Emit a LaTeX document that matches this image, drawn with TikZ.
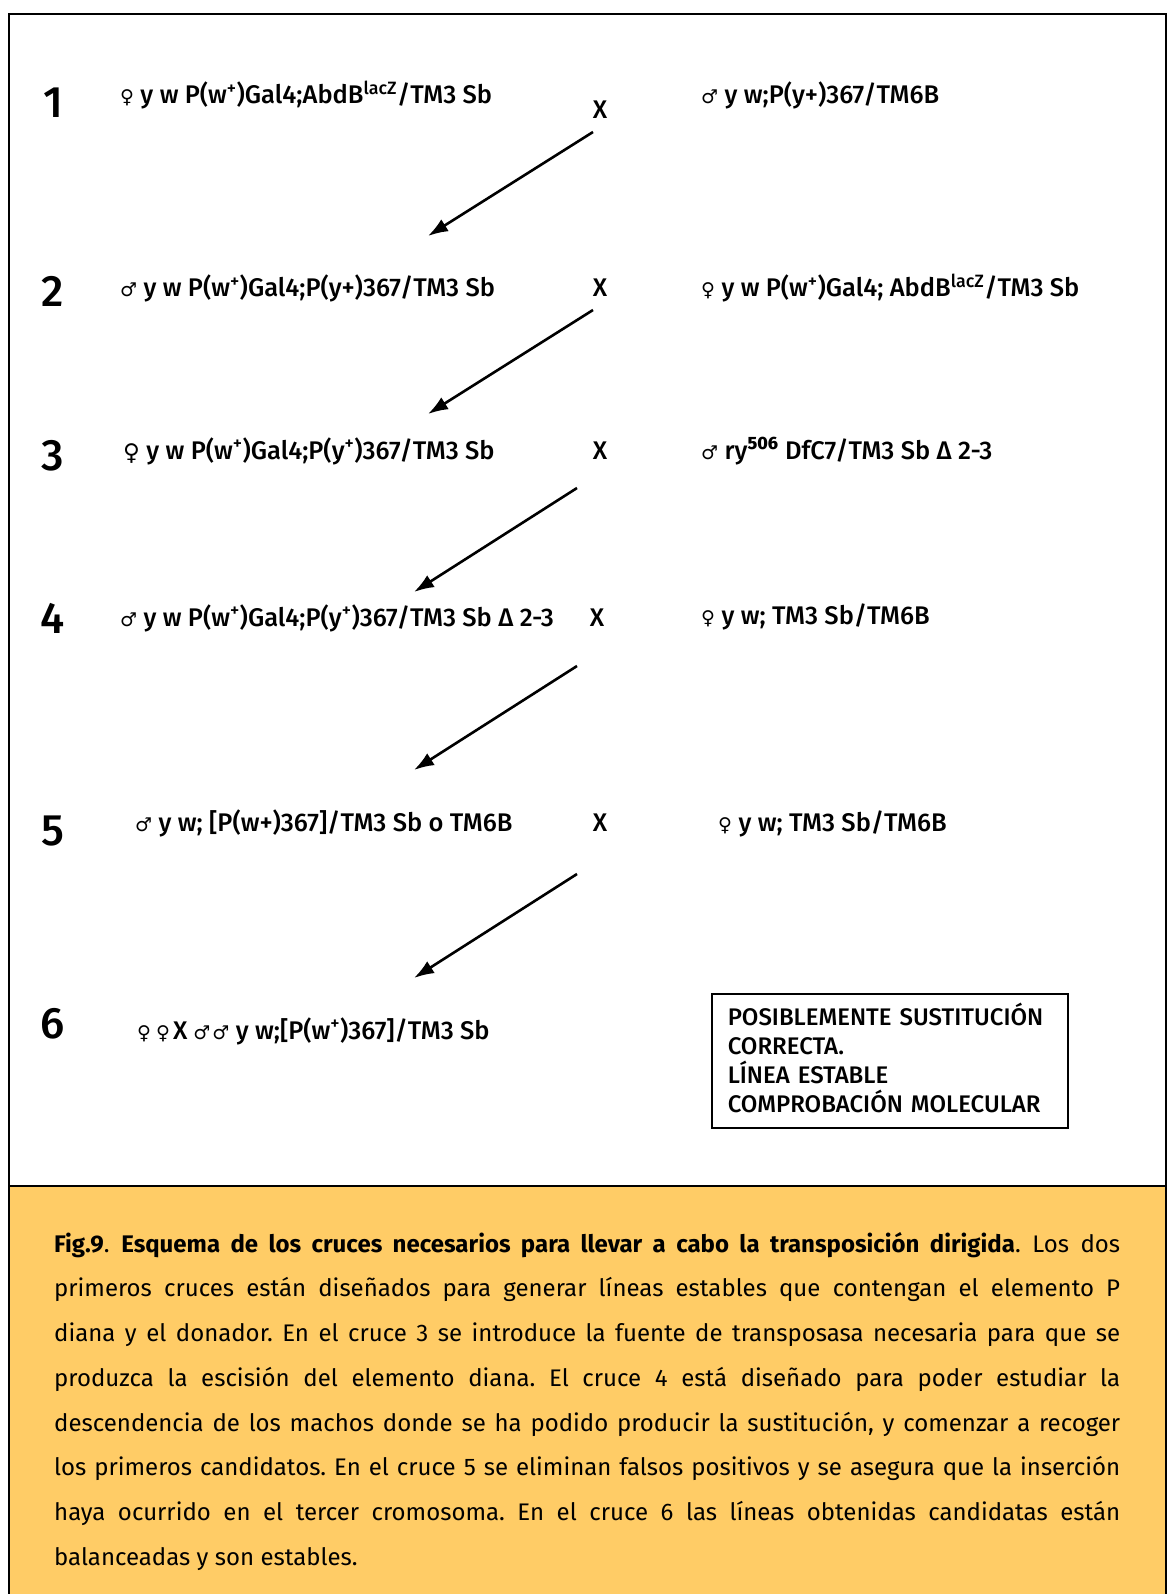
\documentclass[tikz,border=0pt]{standalone}
\usepackage{fontspec}
\setmainfont{Fira Sans}
\newfontfamily\genfont{Fira Sans Medium}
\newfontfamily\symfont{DejaVu Sans}
\usetikzlibrary{arrows.meta}
\definecolor{capfill}{HTML}{FFCC66}

% sex symbols and superscript plus
\newcommand{\fem}{{\symfont\fontsize{19}{19}\selectfont\raisebox{0pt}{♀}}}
\newcommand{\bigfem}{{\symfont\fontsize{23}{23}\selectfont\raisebox{-1pt}{♀}}}
\newcommand{\mal}{{\symfont\fontsize{19}{19}\selectfont\raisebox{0pt}{♂}}}
\newcommand{\plus}{\textsuperscript{+}}

\begin{document}
\begin{tikzpicture}[x=1pt,y=-1pt,
  gen/.style={anchor=base west, inner sep=0pt, font=\genfont\fontsize{25.5}{30}\selectfont},
  num/.style={anchor=base, inner sep=0pt, font=\genfont\fontsize{44}{50}\selectfont},
  cross/.style={anchor=base, inner sep=0pt, font=\genfont\fontsize{25.5}{30}\selectfont},
  descent/.style={-{Latex[length=20pt,width=14pt]}, line width=2.6pt},
]
\useasboundingbox (0,0) rectangle (1168,1594);
\fill[white] (0,0) rectangle (1168,1594);

% outer frame and caption panel
\draw[line width=1.5pt] (9,1600) -- (9,14) -- (1166,14) -- (1166,1600);
\filldraw[fill=capfill, line width=1.5pt] (9,1186) rectangle (1166,1600);

% generation numbers
\node[num] (n1) at (53,118) {1};
\node[num] (n2) at (53,307) {2};
\node[num] (n3) at (53,470) {3};
\node[num] (n4) at (53,633) {4};
\node[num] (n5) at (53,845) {5};
\node[num] (n6) at (53,1038) {6};

% cross marks
\node[cross] (x1) at (600,119) {X};
\node[cross] (x2) at (600,297) {X};
\node[cross] (x3) at (600,459) {X};
\node[cross] (x4) at (597,626) {X};
\node[cross] (x5) at (600,831) {X};

% genotypes
\node[gen] (l1) at (120,104) {\fem\ y w P(w\plus)Gal4;AbdB\textsuperscript{lacZ}/TM3 Sb};
\node[gen] (r1) at (701,104) {\mal\ y w;P(y+)367/TM6B};
\node[gen] (l2) at (120,297) {\mal\ y w P(w\plus)Gal4;P(y+)367/TM3 Sb};
\node[gen] (r2) at (701,297) {\fem\ y w P(w\plus)Gal4; AbdB\textsuperscript{lacZ}/TM3 Sb};
\node[gen] (l3) at (123,459) {\bigfem\ y w P(w\plus)Gal4;P(y\plus)367/TM3 Sb};
\node[gen] (r3) at (701,459) {\mal\ ry\textsuperscript{\textbf{506}} DfC7/TM3 Sb Δ 2-3};
\node[gen] (l4) at (120,626) {\mal\ y w P(w\plus)Gal4;P(y\plus)367/TM3 Sb Δ 2-3};
\node[gen] (r4) at (701,624) {\fem\ y w; TM3 Sb/TM6B};
\node[gen] (l5) at (135,831) {\mal\ y w; [P(w+)367]/TM3 Sb o TM6B};
\node[gen] (r5) at (718,831) {\fem\ y w; TM3 Sb/TM6B};
\node[gen] (l6) at (137,1039) {\fem\hspace{5pt}\fem\hspace{3pt}X\hspace{6pt}\mal\hspace{2pt}\mal\ y w;[P(w\plus)367]/TM3 Sb};

% descent arrows
\coordinate (a1s) at (593,132); \coordinate (a1e) at (428,236);
\coordinate (a2s) at (593,310); \coordinate (a2e) at (428,414);
\coordinate (a3s) at (577,488); \coordinate (a3e) at (414,592);
\coordinate (a4s) at (577,666); \coordinate (a4e) at (414,770);
\coordinate (a5s) at (577,874); \coordinate (a5e) at (414,978);
\draw[descent] (a1s) -- (a1e);
\draw[descent] (a2s) -- (a2e);
\draw[descent] (a3s) -- (a3e);
\draw[descent] (a4s) -- (a4e);
\draw[descent] (a5s) -- (a5e);

% outcome note
\node[draw, line width=1.5pt, anchor=north west, minimum width=356pt, minimum height=134pt,
      text width=324pt, inner xsep=16pt, align=left,
      font=\genfont\fontsize{24}{29.3}\selectfont] (note) at (711,993)
  {POSIBLEMENTE SUSTITUCIÓN\\CORRECTA.\\LÍNEA ESTABLE\\COMPROBACIÓN MOLECULAR\rule[-6pt]{0pt}{0pt}};

% caption
\node[anchor=north west, inner sep=0pt, text width=1066pt, align=justify,
      font=\frenchspacing\fontsize{24}{44.7}\selectfont] (caption) at (54,1232)
  {\rule{0pt}{20pt}\textbf{Fig.9}. \textbf{Esquema de los cruces necesarios para llevar a cabo la transposición dirigida}. Los dos\linebreak
   primeros cruces están diseñados para generar líneas estables que contengan el elemento P\linebreak
   diana y el donador. En el cruce 3 se introduce la fuente de transposasa necesaria para que se\linebreak
   produzca la escisión del elemento diana. El cruce 4 está diseñado para poder estudiar la\linebreak
   descendencia de los machos donde se ha podido producir la sustitución, y comenzar a recoger\linebreak
   los primeros candidatos. En el cruce 5 se eliminan falsos positivos y se asegura que la inserción\linebreak
   haya ocurrido en el tercer cromosoma. En el cruce 6 las líneas obtenidas candidatas están\linebreak
   balanceadas y son estables.};
\end{tikzpicture}
\end{document}
